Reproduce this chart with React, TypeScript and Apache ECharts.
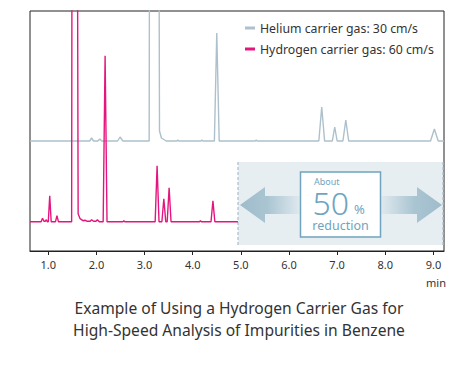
import React, { useEffect, useRef } from "react";
import * as echarts from "echarts";

// Retention time (min) and detector signal (relative to each trace's own baseline)
const heliumTimes = [
  0.62, 1.86, 1.9, 1.94, 2.03, 2.07, 2.11, 2.44, 2.49, 2.55,
  3.095, 3.11, 3.29, 3.31, 3.35, 3.45,
  3.67, 3.69, 3.71, 4.17, 4.19, 4.21,
  4.45, 4.5, 4.55, 5.3, 5.32, 5.34,
  6.62, 6.68, 6.74, 6.9, 6.95, 7.0, 7.12, 7.18, 7.24,
  8.94, 9.02, 9.1, 9.22,
];
const heliumSignal = [
  0, 0, 3, 0, 0, 2, 0, 0, 4, 0,
  0, 400, 400, 10, 3, 0,
  0, 1, 0, 0, 1, 0,
  0, 108, 0, 0, 1, 0,
  0, 34, 0, 0, 14, 0, 0, 21, 0,
  0, 12, 0, 0,
];

const hydrogenTimes = [
  0.62, 0.85, 0.88, 0.91, 0.94, 0.96, 0.98, 1.0, 1.03, 1.06,
  1.15, 1.18, 1.21,
  1.485, 1.495, 1.6, 1.62, 1.66, 1.72, 1.76, 1.8, 1.87, 1.9, 1.94, 1.99, 2.02, 2.06,
  2.14, 2.18, 2.22, 2.55, 2.57, 2.59,
  3.22, 3.26, 3.3, 3.36, 3.4, 3.44, 3.47, 3.51, 3.55,
  4.14, 4.16, 4.18, 4.38, 4.42, 4.46, 4.94,
];
const hydrogenSignal = [
  0, 0, 3.5, 0.5, 0.5, 2, 0, 0, 26, 0,
  0, 6, 0,
  0, 400, 400, 8, 3, 1, 1.5, 0.5, 0.5, 2, 0.5, 0.5, 2, 0,
  0, 166, 0, 0, 1, 0,
  0, 56, 0, 0, 23, 0, 0, 34, 0,
  0, 1, 0, 0, 21, 0, 0,
];

const tickValues = [1, 2, 3, 4, 5, 6, 7, 8, 9];
const seriesNames = ["Helium carrier gas: 30 cm/s", "Hydrogen carrier gas: 60 cm/s"];
const titleLines = [
  "Example of Using a Hydrogen Carrier Gas for",
  "High-Speed Analysis of Impurities in Benzene",
];

const FONT = "'Noto Sans', 'Open Sans', sans-serif";
const HE_COLOR = "#adc0cb";
const H2_COLOR = "#e5157f";
const HE_OFFSET = 110;
const H2_OFFSET = 29.3;
const BOX_BLUE = "#6fa4c0";

export default function App() {
  const ref = useRef<HTMLDivElement>(null);
  useEffect(() => {
    document.body.style.margin = "0";
    if (!ref.current) return;
    const chart = echarts.init(ref.current, null, { renderer: "svg" });
    const leftGrad = new echarts.graphic.LinearGradient(0, 0, 1, 0, [
      { offset: 0, color: "#9fbccb" },
      { offset: 0.45, color: "#aac5d2" },
      { offset: 1, color: "#e1eaef" },
    ]);
    const rightGrad = new echarts.graphic.LinearGradient(0, 0, 1, 0, [
      { offset: 0, color: "#e1eaef" },
      { offset: 0.55, color: "#aac5d2" },
      { offset: 1, color: "#9fbccb" },
    ]);
    const option: any = {
      animation: false,
      grid: {
        left: 30,
        right: 28,
        top: 11,
        bottom: 119,
        show: true,
        borderColor: "#222",
        borderWidth: 1,
      },
      xAxis: {
        type: "value",
        min: 0.62,
        max: 9.22,
        axisLine: { show: true, lineStyle: { color: "#222", width: 1 } },
        axisTick: {
          show: true,
          length: 4,
          customValues: tickValues,
          lineStyle: { color: "#222" },
        },
        axisLabel: {
          customValues: tickValues,
          formatter: (v: number) => v.toFixed(1),
          fontSize: 11,
          color: "#333",
          fontFamily: FONT,
          margin: 8,
        },
        splitLine: { show: false },
      },
      yAxis: { type: "value", min: 0, max: 240, show: false },
      legend: {
        data: seriesNames,
        orient: "vertical",
        left: 245,
        top: 20,
        padding: 0,
        icon: "rect",
        itemWidth: 10,
        itemHeight: 3,
        itemGap: 5,
        textStyle: { fontSize: 12.3, color: "#333", fontFamily: FONT, lineHeight: 16 },
      },
      series: [
        {
          name: seriesNames[0],
          type: "line",
          data: heliumTimes.map((t, i) => [t, heliumSignal[i] + HE_OFFSET]),
          symbol: "none",
          clip: true,
          lineStyle: { color: HE_COLOR, width: 1.4 },
          itemStyle: { color: HE_COLOR },
          z: 3,
        },
        {
          name: seriesNames[1],
          type: "line",
          data: hydrogenTimes.map((t, i) => [t, hydrogenSignal[i] + H2_OFFSET]),
          symbol: "none",
          clip: true,
          lineStyle: { color: H2_COLOR, width: 1.4 },
          itemStyle: { color: H2_COLOR },
          z: 3,
        },
      ],
      graphic: [
        {
          type: "rect",
          shape: { x: 238, y: 162, width: 205, height: 83 },
          style: { fill: "#e6eef2" },
          z: 1,
        },
        {
          type: "line",
          shape: { x1: 238, y1: 162, x2: 238, y2: 246 },
          style: { stroke: "#a7bfcc", lineWidth: 1.2, lineDash: [3, 2] },
          z: 2,
        },
        {
          type: "line",
          shape: { x1: 443, y1: 162, x2: 443, y2: 246 },
          style: { stroke: "#a7bfcc", lineWidth: 1.2, lineDash: [3, 2] },
          z: 2,
        },
        {
          type: "polygon",
          shape: {
            points: [
              [240, 205], [265, 187], [265, 196], [301, 196],
              [301, 214], [265, 214], [265, 223],
            ],
          },
          style: { fill: leftGrad },
          z: 2,
        },
        {
          type: "polygon",
          shape: {
            points: [
              [442, 205], [417, 187], [417, 196], [380, 196],
              [380, 214], [417, 214], [417, 223],
            ],
          },
          style: { fill: rightGrad },
          z: 2,
        },
        {
          type: "rect",
          shape: { x: 300.5, y: 172, width: 80, height: 65 },
          style: { fill: "#ffffff", stroke: BOX_BLUE, lineWidth: 1.5 },
          z: 3,
        },
        {
          type: "text",
          x: 314,
          y: 181,
          style: {
            text: "About",
            fontSize: 9,
            lineHeight: 9,
            fill: BOX_BLUE,
            fontFamily: FONT,
            verticalAlign: "middle",
            align: "left",
          },
          z: 4,
        },
        {
          type: "text",
          x: 312.5,
          y: 202,
          style: {
            text: "50",
            fontSize: 32,
            lineHeight: 26,
            fontWeight: 300,
            fill: BOX_BLUE,
            fontFamily: FONT,
            verticalAlign: "middle",
            align: "left",
          },
          z: 4,
        },
        {
          type: "text",
          x: 354,
          y: 209,
          style: {
            text: "%",
            fontSize: 13,
            lineHeight: 11,
            fill: BOX_BLUE,
            fontFamily: FONT,
            verticalAlign: "middle",
            align: "left",
          },
          z: 4,
        },
        {
          type: "text",
          x: 340.5,
          y: 225.5,
          style: {
            text: "reduction",
            fontSize: 12.5,
            lineHeight: 12,
            fill: BOX_BLUE,
            fontFamily: FONT,
            verticalAlign: "middle",
            align: "center",
          },
          z: 4,
        },
        {
          type: "text",
          x: 436,
          y: 282,
          style: {
            text: "min",
            fontSize: 11,
            fill: "#333",
            fontFamily: FONT,
            verticalAlign: "middle",
            align: "center",
          },
        },
        {
          type: "text",
          x: 239,
          y: 319,
          style: {
            text: titleLines.join("\n"),
            fontSize: 15.6,
            lineHeight: 22,
            fill: "#333",
            fontFamily: FONT,
            verticalAlign: "middle",
            align: "center",
          },
        },
      ],
    };
    chart.setOption(option);
    return () => chart.dispose();
  }, []);
  return (
    <div
      ref={ref}
      style={{ position: "absolute", left: 0, top: 0, width: 472, height: 370 }}
    />
  );
}
